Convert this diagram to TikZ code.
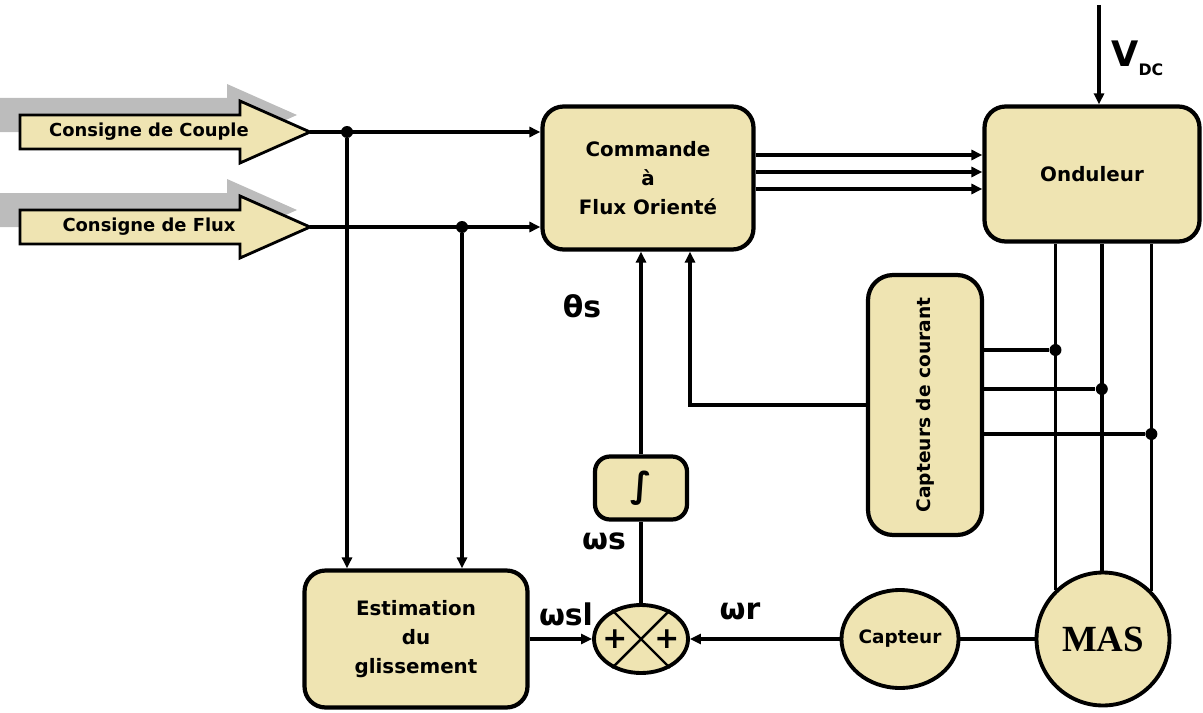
\documentclass[tikz,border=0pt]{standalone}
\usepackage{fontspec}
\setmainfont{DejaVu Sans}
\newfontfamily\masfont{Liberation Serif}
\usetikzlibrary{arrows.meta,shapes.geometric}

\definecolor{boxfill}{RGB}{239,228,178}
\definecolor{shadowgray}{RGB}{188,188,188}

\tikzset{
  bloc/.style={draw, line width=2.4pt, fill=boxfill, rounded corners=0.42cm, align=center,
    font=\bfseries\fontsize{11.3}{16.5}\selectfont},
  rond/.style={draw, line width=2.2pt, fill=boxfill, ellipse, inner sep=0pt,
    font=\bfseries\fontsize{10.5}{12}\selectfont},
  fil/.style={line width=2pt},
  fleche/.style={fil, -{Triangle[length=0.22cm,width=0.2cm]}},
  lbl/.style={font=\bfseries\fontsize{17}{17}\selectfont},
  jonction/.style={circle, fill, inner sep=0pt, minimum size=0.24cm}
}

\begin{document}
\begin{tikzpicture}[x=0.02cm, y=-0.02cm]
\useasboundingbox (0,0) rectangle (1203,713);

% Grosses fleches des consignes (avec ombre)
\foreach \yy/\txt/\nm in {132/Consigne de Couple/cpl, 227/Consigne de Flux/flx}{
  \fill[shadowgray] (-10,\yy-34) -- (227,\yy-34) -- (227,\yy-48) -- (297,\yy-17)
    -- (227,\yy+14) -- (227,\yy) -- (-10,\yy) -- cycle;
  \draw[line width=1.6pt, fill=boxfill] (20,\yy-17) -- (240,\yy-17) -- (240,\yy-31) -- (310,\yy)
    -- (240,\yy+31) -- (240,\yy+17) -- (20,\yy+17) -- cycle;
  \node[font=\bfseries\fontsize{10.2}{12}\selectfont] (\nm) at (149,\yy) {\txt};
  \coordinate (\nm-tip) at (310,\yy);
}

% Blocs
\node[bloc, minimum width=4.22cm, minimum height=2.86cm] (cmd) at (648,178) {Commande\\à\\Flux Orienté};
\node[bloc, minimum width=4.3cm, minimum height=2.7cm] (ond) at (1092,174) {Onduleur};
\node[bloc, minimum width=2.28cm, minimum height=5.2cm, rounded corners=0.5cm] (cc) at (925,405) {};
\node[rotate=90, font=\bfseries\fontsize{10.6}{12}\selectfont] (cc-txt) at (cc) {Capteurs de courant};
\node[bloc, minimum width=4.46cm, minimum height=2.74cm] (est) at (416,639) {Estimation\\du\\glissement};
\node[bloc, minimum width=1.84cm, minimum height=1.26cm, rounded corners=0.3cm,
  font=\bfseries\fontsize{20}{20}\selectfont] (integ) at (641,488) {∫};
\node[rond, minimum width=1.88cm, minimum height=1.36cm] (sum) at (641,639) {};
\node[rond, minimum width=2.28cm, minimum height=1.96cm] (cap) at (900,639) {Capteur};
\node[rond, circle, minimum size=2.66cm, font=\masfont\bfseries\fontsize{21}{21}\selectfont] (mas) at (1103,639) {MAS};

% Comparateur
\draw[line width=1.4pt] (sum.135) -- (sum.-45) (sum.45) -- (sum.-135);
\node[font=\bfseries\fontsize{17}{17}\selectfont] (plus1) at ([xshift=-0.52cm]sum.center) {+};
\node[font=\bfseries\fontsize{17}{17}\selectfont] (plus2) at ([xshift=0.52cm]sum.center) {+};

% Consignes vers commande et estimation
\draw[fleche] (cpl-tip) -- (cpl-tip -| cmd.west);
\draw[fleche] (flx-tip) -- (flx-tip -| cmd.west);
\node[jonction] (j1) at (347,132) {};
\node[jonction] (j2) at (462,227) {};
\draw[fleche] (j1) -- (j1 |- est.north);
\draw[fleche] (j2) -- (j2 |- est.north);

% Commande vers onduleur
\foreach \yy in {155,172,189}
  \draw[fleche] (cmd.east |- 0,\yy) -- (ond.west |- 0,\yy);

% Tension continue
\coordinate (vdc) at (1099,5);
\draw[fleche] (vdc) -- (vdc |- ond.north);
\node[anchor=west, inner sep=0pt, font=\bfseries\fontsize{20}{20}\selectfont] (vdc-lbl) at (1111,58)
  {V\raisebox{-0.45ex}{\fontsize{9}{9}\selectfont DC}};

% Phases onduleur vers MAS
\foreach \ang/\yy/\nm in {134/350/d1, 91/389/d2, 45/434/d3}{
  \draw[fil] (mas.\ang) -- (mas.\ang |- ond.south);
  \node[jonction] (\nm) at (mas.\ang |- 0,\yy) {};
  \draw[fil] (cc.east |- \nm) -- (\nm);
}

% Retour des courants
\draw[fleche] (cc.west) -| (690,0 |- cmd.south);

% Angle et pulsations
\draw[fil] (sum.north) -- (integ.south);
\draw[fleche] (integ.north) -- (integ.north |- cmd.south);
\draw[fleche] (est.east) -- (sum.west);
\draw[fil] (mas.west) -- (cap.east);
\draw[fleche] (cap.west) -- (sum.east);

\node[lbl] (ths) at (582,306) {θs};
\node[lbl] (ws) at (604,541) {ωs};
\node[lbl] (wsl) at (566,614) {ωsl};
\node[lbl] (wr) at (740,611) {ωr};
\end{tikzpicture}
\end{document}
